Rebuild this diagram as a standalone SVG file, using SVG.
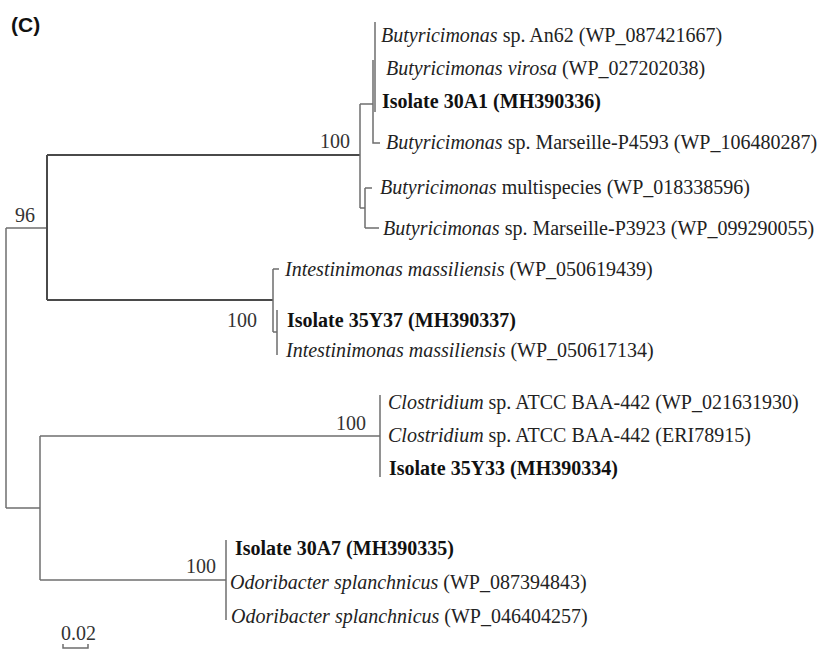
<svg xmlns="http://www.w3.org/2000/svg" width="820" height="652" viewBox="0 0 820 652">
<style>
.t{font-family:"Liberation Serif","Times New Roman",serif;font-size:20px;fill:#222}
.i{font-style:italic}
.b{font-weight:bold;fill:#111}
.n{font-family:"Liberation Serif","Times New Roman",serif;font-size:20px;fill:#333}
.e{fill:none;stroke:#6e6e6e;stroke-width:1.5}
.h{fill:none;stroke:#4a4a4a;stroke-width:2}
</style>
<rect width="820" height="652" fill="#fff"/>
<text x="11" y="32" font-family="Liberation Sans,Arial,sans-serif" font-weight="bold" font-size="21" fill="#111">(C)</text>
<g id="edges">
<path class="e" d="M6 228 V508"/>
<path class="e" d="M6 228 H47"/>
<path class="h" d="M47 155 V300"/>
<path class="h" d="M47 155 H360"/>
<path class="h" d="M47 300 H273"/>
<path class="e" d="M360 104 V208"/>
<path class="e" d="M360 104 H373"/>
<path class="e" d="M375 22 V112"/>
<path class="e" d="M373 60 V143 H380"/>
<path class="e" d="M360 208 H365 M365 188 V228 M365 188 H372 M365 228 H379"/>
<path class="e" d="M273 269 V332 M273 269 H279 M273 332 H277 M277 310 V355"/>
<path class="e" d="M6 508 H40"/>
<path class="e" d="M40 436 V580"/>
<path class="e" d="M40 436 H380"/>
<path class="e" d="M380 395 V477"/>
<path class="e" d="M40 580 H226"/>
<path class="e" d="M226 540 V620"/>
<path class="e" d="M63 644 V648 H88 V644"/>
</g>
<g id="bootstrap">
<text class="n" x="15" y="222">96</text>
<text class="n" x="350" y="148" text-anchor="end">100</text>
<text class="n" x="257" y="327" text-anchor="end">100</text>
<text class="n" x="366" y="430" text-anchor="end">100</text>
<text class="n" x="216" y="573" text-anchor="end">100</text>
<text class="n" x="61" y="640">0.02</text>
</g>
<g id="leaf-but-an62"><text class="t" x="381" y="42"><tspan class="i">Butyricimonas</tspan> sp. An62 (WP_087421667)</text></g>
<g id="leaf-but-virosa"><text class="t" x="386" y="75"><tspan class="i">Butyricimonas virosa</tspan> (WP_027202038)</text></g>
<g id="leaf-30A1"><text class="t b" x="382" y="108">Isolate 30A1 (MH390336)</text></g>
<g id="leaf-but-p4593"><text class="t" x="386" y="149"><tspan class="i">Butyricimonas</tspan> sp. Marseille-P4593 (WP_106480287)</text></g>
<g id="leaf-but-multi"><text class="t" x="380" y="194"><tspan class="i">Butyricimonas</tspan> multispecies (WP_018338596)</text></g>
<g id="leaf-but-p3923"><text class="t" x="383" y="235"><tspan class="i">Butyricimonas</tspan> sp. Marseille-P3923 (WP_099290055)</text></g>
<g id="leaf-int-1"><text class="t" x="285" y="276"><tspan class="i">Intestinimonas massiliensis</tspan> (WP_050619439)</text></g>
<g id="leaf-35Y37"><text class="t b" x="287" y="327">Isolate 35Y37 (MH390337)</text></g>
<g id="leaf-int-2"><text class="t" x="286" y="357"><tspan class="i">Intestinimonas massiliensis</tspan> (WP_050617134)</text></g>
<g id="leaf-clo-1"><text class="t" x="388" y="409"><tspan class="i">Clostridium</tspan> sp. ATCC BAA-442 (WP_021631930)</text></g>
<g id="leaf-clo-2"><text class="t" x="388" y="442"><tspan class="i">Clostridium</tspan> sp. ATCC BAA-442 (ERI78915)</text></g>
<g id="leaf-35Y33"><text class="t b" x="389" y="475">Isolate 35Y33 (MH390334)</text></g>
<g id="leaf-30A7"><text class="t b" x="235" y="555">Isolate 30A7 (MH390335)</text></g>
<g id="leaf-odo-1"><text class="t" x="230" y="589"><tspan class="i">Odoribacter splanchnicus</tspan> (WP_087394843)</text></g>
<g id="leaf-odo-2"><text class="t" x="231" y="623"><tspan class="i">Odoribacter splanchnicus</tspan> (WP_046404257)</text></g>
</svg>
